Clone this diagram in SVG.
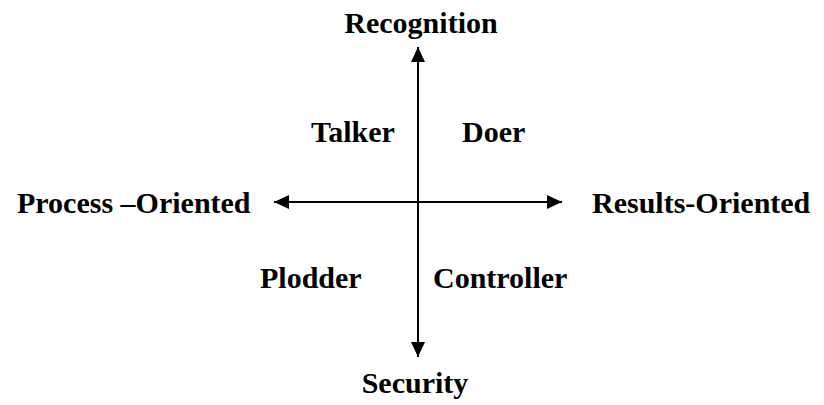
<svg xmlns="http://www.w3.org/2000/svg" width="824" height="405" viewBox="0 0 824 405">
<style>
text{font-family:"Liberation Serif","Times New Roman",serif;font-weight:bold;font-size:30px;fill:#000}
.ax{stroke:#000;stroke-width:2;fill:none}
</style>
<defs>
<marker id="ah" markerWidth="15" markerHeight="14" refX="15" refY="7" orient="auto" markerUnits="userSpaceOnUse">
<path d="M0,0 L15,7 L0,14 Z" fill="#000"/>
</marker>
</defs>
<rect width="824" height="405" fill="#fff"/>
<g id="connectors">
<line class="ax" x1="418" y1="202" x2="418" y2="47" marker-end="url(#ah)"/>
<line class="ax" x1="418" y1="202" x2="418" y2="357" marker-end="url(#ah)"/>
<line class="ax" x1="418" y1="202" x2="274" y2="202" marker-end="url(#ah)"/>
<line class="ax" x1="418" y1="202" x2="562" y2="202" marker-end="url(#ah)"/>
</g>
<g id="recognition"><text x="421" y="33" text-anchor="middle">Recognition</text></g>
<g id="security"><text x="415" y="393" text-anchor="middle">Security</text></g>
<g id="process"><text x="17" y="213">Process –Oriented</text></g>
<g id="results"><text x="592" y="213">Results-Oriented</text></g>
<g id="talker"><text x="311" y="142">Talker</text></g>
<g id="doer"><text x="462" y="142">Doer</text></g>
<g id="plodder"><text x="260" y="288">Plodder</text></g>
<g id="controller"><text x="433" y="288">Controller</text></g>
</svg>
